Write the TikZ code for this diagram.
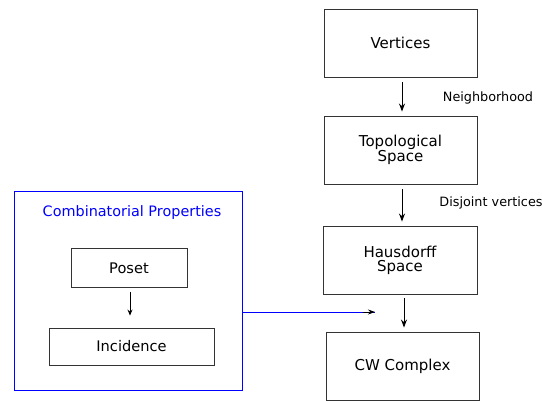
\documentclass[tikz,border=0pt]{standalone}
\usepackage{fontspec}
\setmainfont{DejaVu Sans}
\usetikzlibrary{arrows.meta,calc}
\tikzset{
  box/.style={draw=black!80, line width=0.9pt, minimum width=153pt, minimum height=68pt,
    inner sep=0pt, align=center, font=\fontsize{15}{14}\selectfont},
  smallbox/.style={draw=black!80, line width=0.9pt, inner sep=0pt,
    font=\fontsize{14.6}{14.6}\selectfont},
  flow/.style={-{Stealth[length=8pt,width=6pt]}, line width=1pt, black},
  lbl/.style={font=\fontsize{12.8}{13}\selectfont, inner sep=0pt},
}
\begin{document}
\begin{tikzpicture}[x=1pt,y=-1pt]
  \useasboundingbox (0,0) rectangle (542,401);
  % main chain
  \node[box] (v) at (400.5,43) {Vertices};
  \node[box] (t) at (400.5,150) {Topological\\Space};
  \node[box, minimum width=154pt] (h) at (400,260) {Hausdorff\\Space};
  \node[box] (cw) at (402.5,366) {CW Complex};
  % combinatorial group
  \node[draw=blue, line width=0.9pt, minimum width=228pt, minimum height=199pt, inner sep=0pt] (grp) at (128,291) {};
  \node[text=blue, font=\fontsize{14.4}{14}\selectfont, inner sep=0pt] (gt) at (132,213) {Combinatorial Properties};
  \node[smallbox, minimum width=116pt, minimum height=39pt] (p) at (129,268) {Poset};
  \node[smallbox, minimum width=165pt, minimum height=37pt] (i) at (131.5,346.5) {Incidence};
  % edge labels
  \node[lbl] (nl) at (488,98) {Neighborhood};
  \node[lbl] (dl) at (491,203) {Disjoint vertices};
  % connectors
  \draw[flow, shorten <=5pt, shorten >=4pt] ([xshift=1.5pt]v.south) -- ([xshift=1.5pt]t.north);
  \draw[flow, shorten <=5pt, shorten >=4pt] ([xshift=1.5pt]t.south) -- ([xshift=1.5pt]t.south |- h.north);
  \draw[flow, shorten <=4pt, shorten >=4pt] ([xshift=4pt]h.south) -- ([xshift=4pt]h.south |- cw.north);
  \draw[-{Stealth[length=6pt,width=5pt]}, line width=0.8pt, black, shorten <=4pt, shorten >=12pt]
    ([xshift=1pt]p.south) -- ([xshift=1pt]p.south |- i.north);
  \coordinate (bend) at (375,312);
  \draw[blue, line width=0.9pt] (grp.east |- bend) -- (bend);
  \draw[-{Stealth[length=7pt,width=5pt]}, line width=0.8pt, black] ($(bend)+(-12,0)$) -- (bend);
\end{tikzpicture}
\end{document}
